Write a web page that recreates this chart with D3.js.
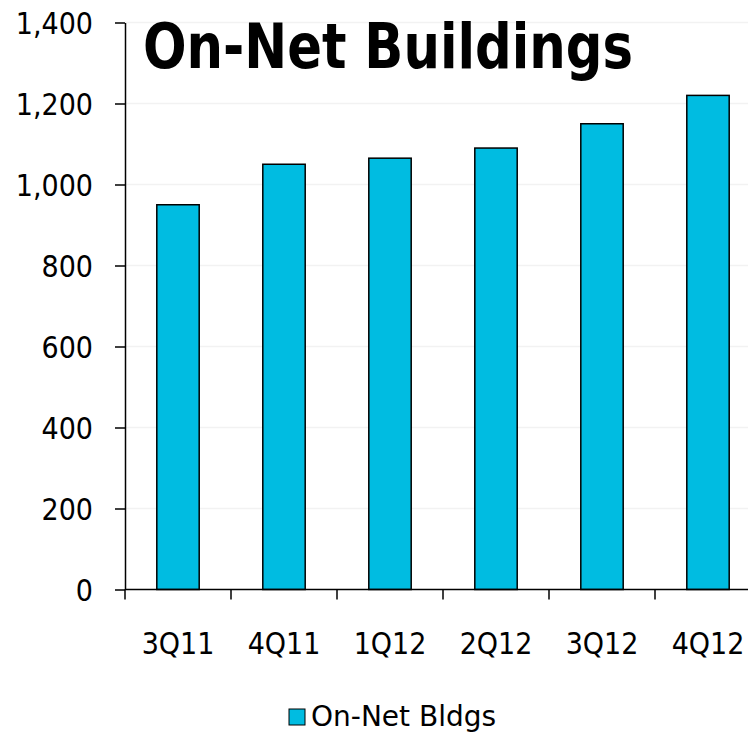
<!DOCTYPE html>
<html>
<head>
<meta charset="utf-8">
<script src="https://cdn.jsdelivr.net/npm/d3@7"></script>
<style>
  html, body { margin: 0; padding: 0; background: #fff; }
  svg { display: block; }
  text { font-family: "DejaVu Sans Condensed", "DejaVu Sans", sans-serif; font-stretch: condensed; fill: #000; }
  text.legend-label { font-family: "DejaVu Sans", sans-serif; font-stretch: normal; }
</style>
</head>
<body>
<svg id="chart" width="748" height="732"></svg>
<script>
// Quarterly on-net building counts
const quarters = ["3Q11", "4Q11", "1Q12", "2Q12", "3Q12", "4Q12"];
const onNetBldgs = [950, 1050, 1065, 1090, 1150, 1220];
const yTicks = [0, 200, 400, 600, 800, 1000, 1200, 1400];
const seriesName = "On-Net Bldgs";
const chartTitle = "On-Net Buildings";

const W = 748, H = 732;
const plotLeft = 125, plotTop = 22.5, plotBottom = 589.5, plotRight = 761;
const barFill = "#00BCE1";

const svg = d3.select("#chart");

const x = d3.scaleBand()
  .domain(quarters)
  .range([plotLeft, plotRight])
  .paddingInner(0.6)
  .paddingOuter(0.3);

const y = d3.scaleLinear()
  .domain([0, 1400])
  .range([plotBottom, plotTop]);

// light horizontal gridlines
svg.append("g")
  .selectAll("line")
  .data(yTicks.filter(d => d > 0))
  .join("line")
  .attr("x1", plotLeft).attr("x2", W)
  .attr("y1", d => y(d)).attr("y2", d => y(d))
  .attr("stroke", "#f2f2f2")
  .attr("stroke-width", 1.5);

// bars
svg.append("g")
  .selectAll("rect")
  .data(quarters.map((q, i) => ({ q, v: onNetBldgs[i] })))
  .join("rect")
  .attr("x", d => x(d.q))
  .attr("y", d => y(d.v))
  .attr("width", x.bandwidth())
  .attr("height", d => y(0) - y(d.v))
  .attr("fill", barFill)
  .attr("stroke", "#000")
  .attr("stroke-width", 1.5);

// y axis
const yAxis = svg.append("g")
  .attr("transform", `translate(${plotLeft},0)`)
  .call(d3.axisLeft(y).tickValues(yTicks).tickSize(10).tickSizeOuter(0)
    .tickPadding(22).tickFormat(d3.format(",")));
yAxis.attr("font-family", null).attr("font-size", null);
yAxis.select(".domain").attr("stroke", "#000").attr("stroke-width", 1.5);
yAxis.selectAll(".tick line").attr("stroke", "#000").attr("stroke-width", 1.5);
yAxis.selectAll(".tick text")
  .attr("font-size", 30)
  .attr("fill", "#000")
  .attr("dy", "0.36em");

// x axis: baseline, boundary ticks, centred labels
const xAxis = svg.append("g").attr("transform", `translate(0,${plotBottom})`);
xAxis.append("line")
  .attr("x1", plotLeft).attr("x2", W)
  .attr("stroke", "#000").attr("stroke-width", 1.5);
const bounds = quarters.map(q => x(q) - x.step() * x.paddingInner() / 2);
xAxis.selectAll(".bound")
  .data(bounds)
  .join("line")
  .attr("class", "bound")
  .attr("x1", d => d).attr("x2", d => d)
  .attr("y1", 0).attr("y2", 10)
  .attr("stroke", "#000").attr("stroke-width", 1.5);
xAxis.call(d3.axisBottom(x).tickSize(0).tickPadding(0))
  .call(g => g.select(".domain").remove());
xAxis.attr("font-family", null).attr("font-size", null);
xAxis.selectAll(".tick text")
  .attr("font-size", 30)
  .attr("fill", "#000")
  .attr("y", 64)
  .attr("dy", 0);

// title
svg.append("text")
  .attr("x", 143)
  .attr("y", 68)
  .attr("font-size", 62)
  .attr("font-weight", "bold")
  .attr("textLength", 490)
  .attr("lengthAdjust", "spacingAndGlyphs")
  .text(chartTitle);

// legend
const legend = svg.append("g").attr("transform", "translate(289,709)");
legend.append("rect")
  .attr("width", 16).attr("height", 16)
  .attr("fill", barFill)
  .attr("stroke", "#000").attr("stroke-width", 1);
legend.append("text")
  .attr("class", "legend-label")
  .attr("x", 22)
  .attr("y", 16.5)
  .attr("font-size", 28)
  .text(seriesName);
</script>
</body>
</html>
